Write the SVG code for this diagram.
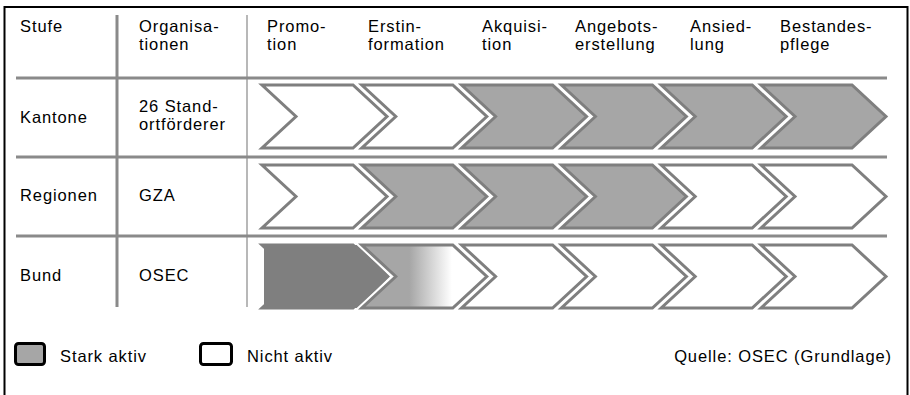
<svg xmlns="http://www.w3.org/2000/svg" width="910" height="395" viewBox="0 0 910 395">
  <style>
    text { font-family: "Liberation Sans", Arial, sans-serif; font-size: 16.5px; letter-spacing: 0.9px; fill: #000; }
    .grid { stroke: #8a8a8a; stroke-width: 3; }
    .thin { stroke: #a0a0a0; stroke-width: 1.5; }
    .halo { fill: none; stroke: #fff; stroke-width: 7; stroke-linejoin: miter; }
    .chev { stroke: #7f7f7f; stroke-width: 3; stroke-linejoin: miter; }
    .on { fill: #a6a6a6; }
    .off { fill: #fff; }
    .fade { fill: url(#fadeFill); }
    .legend { stroke: #000; stroke-width: 3; }
  </style>
  <defs>
    <path id="chevron" d="M0,0 H91 L125,31.5 L91,63 H0 L34,31.5 Z"/>
    <linearGradient id="fadeFill" x1="0" y1="0" x2="1" y2="0">
      <stop offset="0" stop-color="#a6a6a6"/>
      <stop offset="0.38" stop-color="#a6a6a6"/>
      <stop offset="0.72" stop-color="#ffffff"/>
      <stop offset="1" stop-color="#ffffff"/>
    </linearGradient>
  </defs>

  <!-- outer frame -->
  <rect x="4.5" y="7" width="903" height="400" fill="#fff" stroke="#000" stroke-width="2"/>

  <!-- table grid -->
  <g id="grid">
    <line class="grid" x1="117" y1="15" x2="117" y2="307"/>
    <line class="thin" x1="247" y1="15" x2="247" y2="307"/>
    <line class="grid" x1="16" y1="78" x2="887" y2="78"/>
    <line class="grid" x1="16" y1="157" x2="887" y2="157"/>
    <line class="grid" x1="16" y1="236" x2="887" y2="236"/>
  </g>

  <!-- column headers -->
  <g id="headers">
    <text x="20" y="31.5">Stufe</text>
    <text x="139" y="31.5">Organisa-</text><text x="139" y="50">tionen</text>
    <text x="267" y="31.5">Promo-</text><text x="267" y="50">tion</text>
    <text x="368" y="31.5">Erstin-</text><text x="368" y="50">formation</text>
    <text x="482" y="31.5">Akquisi-</text><text x="482" y="50">tion</text>
    <text x="575" y="31.5">Angebots-</text><text x="575" y="50">erstellung</text>
    <text x="690" y="31.5">Ansied-</text><text x="690" y="50">lung</text>
    <text x="780" y="31.5">Bestandes-</text><text x="780" y="50">pflege</text>
  </g>

  <!-- row: Kantone -->
  <g id="row-kantone">
    <text x="20" y="123">Kantone</text>
    <text x="139" y="111.5">26 Stand-</text><text x="139" y="130">ortförderer</text>
    <g transform="translate(262,85)"><use href="#chevron" class="halo"/><use href="#chevron" class="chev off"/></g>
    <g transform="translate(361.8,85)"><use href="#chevron" class="halo"/><use href="#chevron" class="chev off"/></g>
    <g transform="translate(461.6,85)"><use href="#chevron" class="halo"/><use href="#chevron" class="chev on"/></g>
    <g transform="translate(561.4,85)"><use href="#chevron" class="halo"/><use href="#chevron" class="chev on"/></g>
    <g transform="translate(661.2,85)"><use href="#chevron" class="halo"/><use href="#chevron" class="chev on"/></g>
    <g transform="translate(761,85)"><use href="#chevron" class="halo"/><use href="#chevron" class="chev on"/></g>
  </g>

  <!-- row: Regionen -->
  <g id="row-regionen">
    <text x="20" y="201">Regionen</text>
    <text x="139" y="201">GZA</text>
    <g transform="translate(262,165)"><use href="#chevron" class="halo"/><use href="#chevron" class="chev off"/></g>
    <g transform="translate(361.8,165)"><use href="#chevron" class="halo"/><use href="#chevron" class="chev on"/></g>
    <g transform="translate(461.6,165)"><use href="#chevron" class="halo"/><use href="#chevron" class="chev on"/></g>
    <g transform="translate(561.4,165)"><use href="#chevron" class="halo"/><use href="#chevron" class="chev on"/></g>
    <g transform="translate(661.2,165)"><use href="#chevron" class="halo"/><use href="#chevron" class="chev off"/></g>
    <g transform="translate(761,165)"><use href="#chevron" class="halo"/><use href="#chevron" class="chev off"/></g>
  </g>

  <!-- row: Bund -->
  <g id="row-bund">
    <text x="20" y="281">Bund</text>
    <text x="139" y="281">OSEC</text>
    <g transform="translate(262,245)"><use href="#chevron" class="halo"/><use href="#chevron" class="chev off"/></g>
    <polygon points="264,245 358,245 390,276.5 358,308 264,308" fill="#7f7f7f"/>
    <g transform="translate(361.8,245)"><use href="#chevron" class="halo"/><use href="#chevron" class="chev fade"/></g>
    <g transform="translate(461.6,245)"><use href="#chevron" class="halo"/><use href="#chevron" class="chev off"/></g>
    <g transform="translate(561.4,245)"><use href="#chevron" class="halo"/><use href="#chevron" class="chev off"/></g>
    <g transform="translate(661.2,245)"><use href="#chevron" class="halo"/><use href="#chevron" class="chev off"/></g>
    <g transform="translate(761,245)"><use href="#chevron" class="halo"/><use href="#chevron" class="chev off"/></g>
  </g>

  <!-- legend and source -->
  <g id="legend">
    <rect class="legend" x="15.5" y="343.5" width="29" height="21" rx="3" fill="#a6a6a6"/>
    <text x="60" y="362">Stark aktiv</text>
    <rect class="legend" x="200.5" y="343.5" width="31" height="21" rx="3" fill="#fff"/>
    <text x="247" y="362">Nicht aktiv</text>
    <text x="892" y="362" text-anchor="end">Quelle: OSEC (Grundlage)</text>
  </g>
</svg>
